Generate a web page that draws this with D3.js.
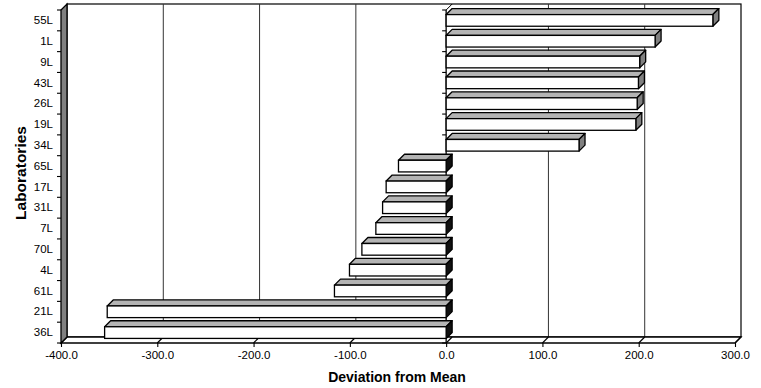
<!DOCTYPE html>
<html>
<head>
<meta charset="utf-8">
<script src="https://cdn.jsdelivr.net/npm/d3@7"></script>
<style>
  html, body { margin: 0; padding: 0; background: #fff; }
  svg { display: block; font-family: "Liberation Sans", Arial, sans-serif; }
</style>
</head>
<body>
<svg id="chart" width="761" height="388"></svg>
<script>
// Laboratory deviations from the overall mean
const labs = ["55L","1L","9L","43L","26L","19L","34L","65L","17L","31L","7L","70L","4L","61L","21L","36L"];
const deviation = [277, 217, 201, 199.7, 198.4, 197, 138, -49.5, -62.3, -66, -73, -87.5, -100.4, -116, -352, -354.7];
const xTicks = [-400, -300, -200, -100, 0, 100, 200, 300];

const FONT = "'Liberation Sans', Arial, sans-serif";
const svg = d3.select("#chart");

// front plane of the 3-D box, and the depth offset to the back wall
const plotLeft = 61, plotRight = 735, plotTop = 10, plotBottom = 343;
const dx = 6, dy = -6;

const x = d3.scaleLinear().domain([-400, 300]).range([plotLeft, plotRight]);
const yCat = d3.scaleBand().domain(labs).range([plotTop, plotBottom]);
const y = d3.scaleBand().domain(labs).range([plotTop, plotBottom])
  .paddingInner(0.44).paddingOuter(0.22);

const fmt = d => d.toFixed(1);
const pts = a => a.map(p => p.join(",")).join(" ");

// back wall
svg.append("rect")
  .attr("x", plotLeft + dx).attr("y", plotTop + dy)
  .attr("width", plotRight - plotLeft).attr("height", plotBottom - plotTop)
  .attr("fill", "#fff").attr("stroke", "#000").attr("stroke-width", 1.2);

// gridlines on the back wall
svg.append("g").selectAll("line")
  .data(xTicks.filter(t => t > -400 && t < 300 && t !== 0))
  .join("line")
  .attr("x1", d => x(d) + dx).attr("x2", d => x(d) + dx)
  .attr("y1", plotTop + dy).attr("y2", plotBottom + dy)
  .attr("stroke", "#333").attr("stroke-width", 1);

// floor
svg.append("polygon")
  .attr("points", pts([[plotLeft, plotBottom], [plotRight, plotBottom], [plotRight + dx, plotBottom + dy], [plotLeft + dx, plotBottom + dy]]))
  .attr("fill", "#fff").attr("stroke", "#000").attr("stroke-width", 1.3);
svg.append("g").selectAll("line")
  .data(xTicks)
  .join("line")
  .attr("x1", d => x(d)).attr("x2", d => x(d) + dx)
  .attr("y1", plotBottom).attr("y2", plotBottom + dy)
  .attr("stroke", "#000").attr("stroke-width", 1.1);

// left side wall
svg.append("polygon")
  .attr("points", pts([[plotLeft, plotTop], [plotLeft + dx, plotTop + dy], [plotLeft + dx, plotBottom + dy], [plotLeft, plotBottom]]))
  .attr("fill", "#808080").attr("stroke", "#000").attr("stroke-width", 1.3);

// value axis along the front edge of the floor
const xAxis = d3.axisBottom(x).tickValues(xTicks).tickFormat(fmt)
  .tickSize(4).tickPadding(4);
const gx = svg.append("g").attr("transform", `translate(0,${plotBottom})`).call(xAxis);
gx.select(".domain").remove();
gx.selectAll("line").attr("stroke", "#000").attr("stroke-width", 1.1);
gx.selectAll("text").attr("font-size", 11.5).attr("fill", "#000")
  .attr("font-family", FONT);

// category axis on the left wall
const yAxis = d3.axisLeft(yCat).tickSize(0).tickPadding(8);
const gy = svg.append("g").attr("transform", `translate(${plotLeft},0)`).call(yAxis);
gy.select(".domain").remove();
gy.selectAll("text").attr("font-size", 11.5).attr("fill", "#000")
  .attr("font-family", FONT);
const bounds = labs.map(l => yCat(l)).concat([plotBottom]);
svg.append("g").selectAll("line").data(bounds).join("line")
  .attr("x1", plotLeft - 4).attr("x2", plotLeft).attr("y1", d => d).attr("y2", d => d)
  .attr("stroke", "#000").attr("stroke-width", 1.1);

// category axis line at zero
const x0 = x(0);
svg.append("line").attr("x1", x0).attr("x2", x0).attr("y1", plotTop).attr("y2", plotBottom)
  .attr("stroke", "#000").attr("stroke-width", 1.3);
svg.append("line").attr("x1", x0).attr("x2", x0 + dx).attr("y1", plotTop).attr("y2", plotTop + dy)
  .attr("stroke", "#000");
svg.append("g").selectAll("line").data(bounds).join("line")
  .attr("x1", x0 - 4).attr("x2", x0).attr("y1", d => d).attr("y2", d => d)
  .attr("stroke", "#000").attr("stroke-width", 1.1);

// 3-D bars
const rows = labs.map((l, i) => ({ lab: l, v: deviation[i] }));
const bw = y.bandwidth();
const bars = svg.append("g").selectAll("g").data(rows).join("g");
bars.each(function(d) {
  const g = d3.select(this);
  const xa = x(Math.min(0, d.v)), xb = x(Math.max(0, d.v));
  const yt = y(d.lab), yb = yt + bw;
  g.append("polygon")
    .attr("points", pts([[xa, yt], [xb, yt], [xb + dx, yt + dy], [xa + dx, yt + dy]]))
    .attr("fill", "#b4b4b4").attr("stroke", "#000").attr("stroke-width", 1.3)
    .attr("stroke-linejoin", "round");
  g.append("polygon")
    .attr("points", pts([[xb, yt], [xb + dx, yt + dy], [xb + dx, yb + dy], [xb, yb]]))
    .attr("fill", d.v < 0 ? "#111" : "#808080").attr("stroke", "#000").attr("stroke-width", 1.3)
    .attr("stroke-linejoin", "round");
  g.append("rect")
    .attr("x", xa).attr("y", yt).attr("width", xb - xa).attr("height", bw)
    .attr("fill", "#fff").attr("stroke", "#000").attr("stroke-width", 1.3);
});

// axis titles
svg.append("text")
  .attr("x", 397).attr("y", 382)
  .attr("text-anchor", "middle")
  .attr("font-family", FONT)
  .attr("font-size", 14).attr("font-weight", "bold")
  .text("Deviation from Mean");
svg.append("text")
  .attr("transform", `translate(26,173) rotate(-90)`)
  .attr("text-anchor", "middle")
  .attr("font-family", FONT)
  .attr("font-size", 15.5).attr("font-weight", "bold")
  .text("Laboratories");
</script>
</body>
</html>
